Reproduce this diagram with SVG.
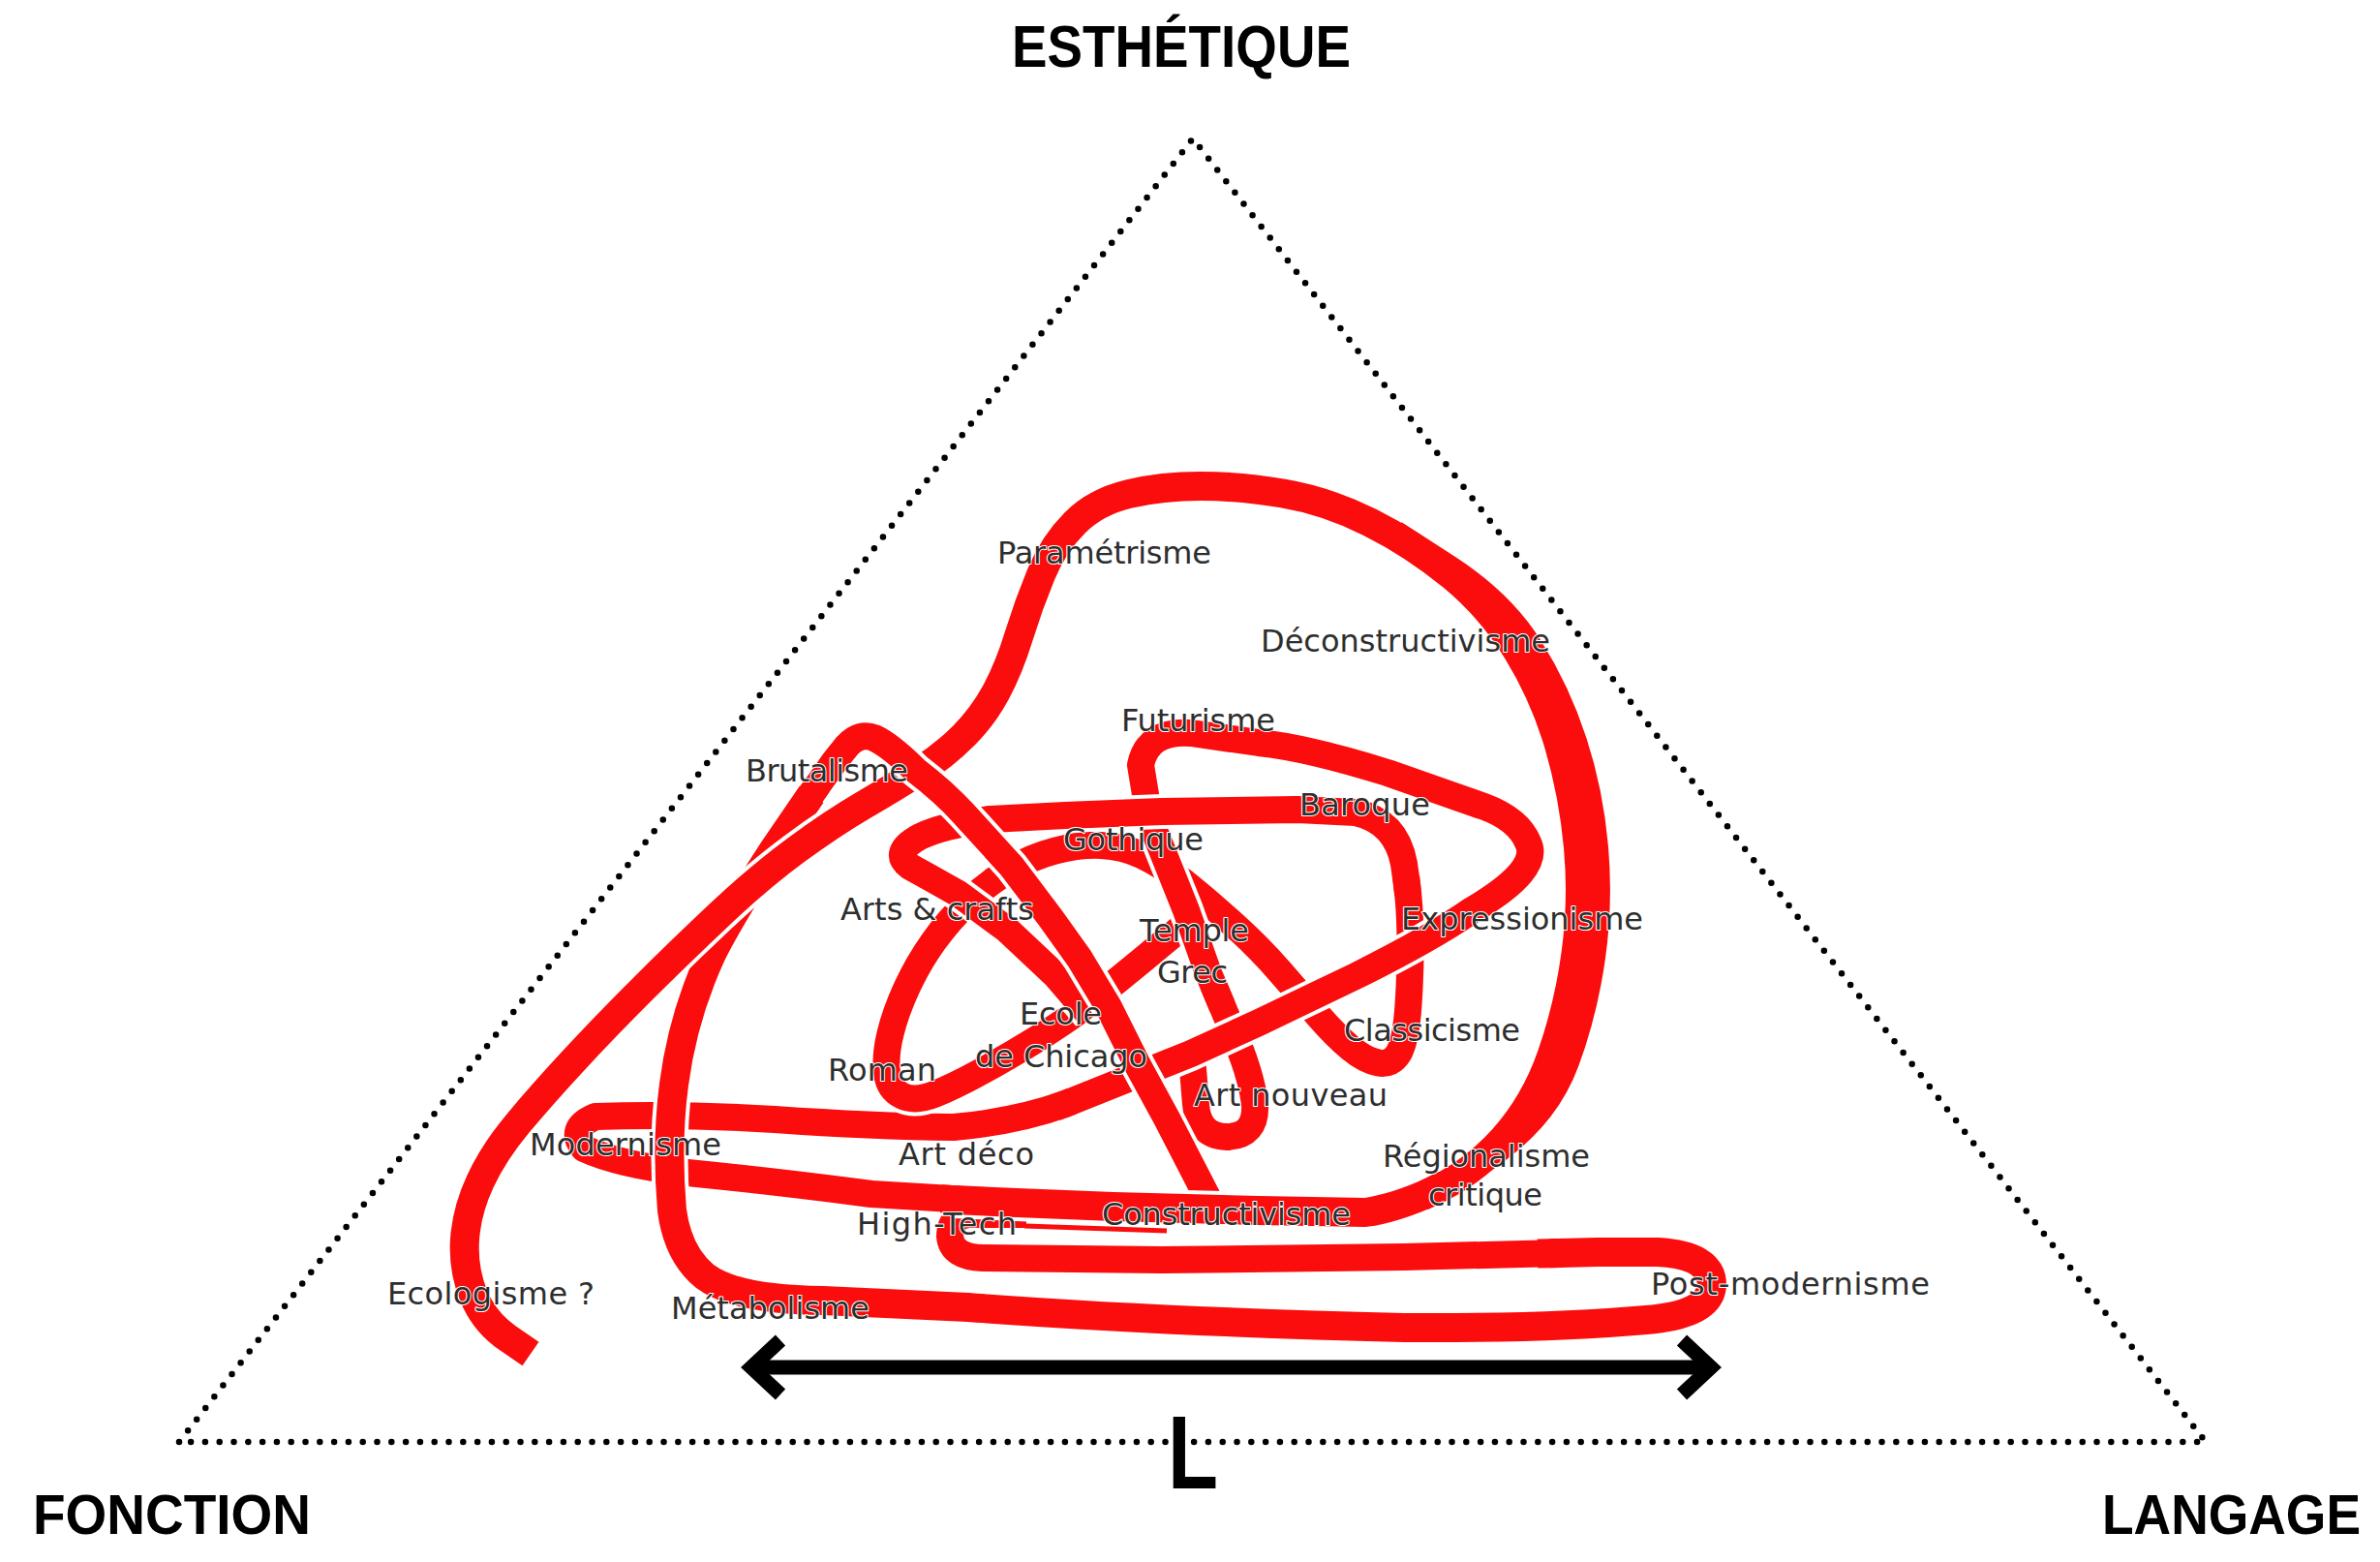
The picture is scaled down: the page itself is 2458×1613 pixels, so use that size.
<svg xmlns="http://www.w3.org/2000/svg" xmlns:xlink="http://www.w3.org/1999/xlink" width="2458" height="1613" viewBox="0 0 2458 1613">
<style>
.w{fill:none;stroke:#fff;stroke-width:36;stroke-linejoin:round;stroke-linecap:butt}
.r{fill:none;stroke:#fb0d0d;stroke-width:28;stroke-linejoin:round;stroke-linecap:butt}
.pt{fill:none;stroke:#fb0d0d;stroke-linecap:butt}
.lbl{font-family:"DejaVu Sans","Noto Sans",sans-serif;font-size:32px;fill:#2e2e2e;stroke:#fff;stroke-width:2;paint-order:stroke;stroke-linejoin:round}
.title{font-family:"Liberation Sans",Arial,sans-serif;font-weight:700;fill:#000}
.dot{fill:none;stroke:#000;stroke-width:6.5;stroke-linecap:round;stroke-dasharray:0 14.8}
.arr{fill:none;stroke:#000;stroke-width:15;stroke-linejoin:miter;stroke-miterlimit:10}
</style>
<defs>
<path id="s1" d="M1060,1254 L1000,1254 Q981,1256 981,1277 Q983,1298 1015,1299 L1200,1301 L1450,1298 L1650,1293"/>
<path id="m1" d="M1000,1239 L900,1233 Q800,1220 710,1211 Q640,1203 603,1186 Q586,1165 615,1153 Q700,1150 800,1156 Q900,1163 985,1164 Q1050,1158 1100,1140 L1140,1124"/>
<path id="l1" d="M1600,1294.25 L1650,1293 L1712,1293 Q1768,1296 1768,1327 Q1766,1358 1700,1363 Q1600,1372 1450,1371 Q1200,1365 1000,1350 L850,1343 Q760,1342 728,1318 Q700,1295 694,1250 Q688,1180 696,1120 Q705,1050 735,985 Q755,945 800,876 L850,803"/>
<path id="p1" d="M1232,948 L1179,992 Q1140,1024 1120,1039.5 Q1100,1055 1070,1073.5 Q1040,1092 1012.5,1107 Q985,1122 965,1130 Q945,1138 931.5,1131.5 Q918,1125 916,1107.5 Q914,1090 919.5,1067.5 Q925,1045 936.5,1020 Q948,995 964,972.5 Q980,950 1000,931 Q1020,912 1042.5,898.5 Q1065,885 1090,878.5 Q1115,872 1137.5,873 Q1160,874 1180,883.5 Q1200,893 1221.5,910 Q1243,927 1271.5,952.5 Q1300,978 1322.5,1004 Q1345,1030 1362.5,1050 Q1380,1070 1395,1082.5 Q1410,1095 1423.5,1097.5 Q1437,1100 1444.5,1087.5 Q1452,1075 1454.5,1037.5 Q1457,1000 1456.5,967.5 Q1456,935 1453,913.5 L1450,892"/>
<path id="v2" d="M1240,985 L1248,1005 L1272,1062 Q1292,1108 1296,1140 Q1298,1173 1267,1174 Q1237,1173 1235,1140 L1231,1092"/>
<path id="b1" d="M1100,1140 L1140,1124 L1230,1088 L1300,1056 L1400,1008 Q1480,968 1520,940 Q1592,898 1578,870 Q1568,846 1533,833 L1433,798 Q1350,772 1300,767 L1230,757 Q1185,754 1178,790 L1187,845 L1203,885 L1225,940 L1248,1005 L1257.7,1028"/>
<path id="p2" d="M1453,913.5 L1450,892 Q1442,848 1400,839 L1340,836 L1200,838 L1100,842 L1023,846 Q975,852 950,864 Q920,880 940,895 Q960,906 990,923 L1040,960 L1090,1007 L1125,1048"/>
<path id="e1" d="M548,1398 L524,1381.5 Q500,1365 489,1337.5 Q478,1310 480,1280 Q482,1250 496,1220 Q510,1190 535,1160 Q560,1130 592.5,1095 Q625,1060 662.5,1022.5 Q700,985 742.5,945 Q785,905 822.5,877.5 Q860,850 892.5,831 Q925,812 950,796 Q975,780 995,760 Q1015,740 1028.5,715 Q1042,690 1052,657.5 Q1062,625 1075,593.5 Q1088,562 1110,540 Q1132,518 1166,510 Q1200,502 1240,502 Q1280,502 1325,509.5 Q1370,517 1415,539.5 Q1460,562 1500,595 Q1540,628 1567.5,673 Q1595,718 1610,769 Q1625,820 1630,875 Q1635,930 1627.5,985 Q1620,1040 1602.5,1090 Q1585,1140 1552.5,1176 Q1520,1212 1480,1230 Q1440,1248 1410,1252"/>
<path id="e1b" d="M1440,551 L1495,586.5 Q1550,622 1579,668 Q1608,714 1625,766 Q1642,818 1647,875 Q1652,932 1644,988.5 Q1636,1045 1617,1096.5 Q1598,1148 1549,1185 L1500,1221"/>
<path id="l2" d="M838,820 L850,803 Q862,785 875,770 Q888,756 903,762 Q920,770 945,795 Q975,818 995,840 L1045,895 L1085,948 L1115,990 L1145,1040 L1175,1100 L1205,1155 L1253,1248"/>
<path id="e2" d="M1480,1230 Q1440,1248 1410,1252 L1300,1250 L1150,1246 L1050,1242 L985,1239"/>
</defs>

<g id="triangle">
<path class="dot" d="M185,1489 L1232,143 L2278,1489 Z"/>
</g>

<g id="connectors">
<use href="#s1" class="w"/><use href="#s1" class="r"/>
<use href="#m1" class="w"/><use href="#m1" class="r"/>
<use href="#l1" class="w" style="stroke-width:38"/><use href="#l1" class="r" style="stroke-width:30"/>
<path class="pt" stroke-width="30" d="M1588,1294.55 L1614,1293.9"/>
<use href="#p1" class="w"/><use href="#p1" class="r"/>
<use href="#v2" class="w"/><use href="#v2" class="r"/>
<use href="#b1" class="w"/><use href="#b1" class="r"/>
<path class="pt" stroke-width="28" d="M1252.8,1016.4 L1262.4,1039.2"/>
<path class="pt" stroke-width="28" d="M1107,1137.2 L1090,1143.6"/>
<use href="#p2" class="w"/><use href="#p2" class="r"/>
<path class="pt" stroke-width="28" d="M1454.2,924 L1452.2,906"/>
<use href="#e1" class="w" style="stroke-width:38"/><use href="#e1b" class="w"/><use href="#e1" class="r" style="stroke-width:30"/><use href="#e1b" class="r"/>
<use href="#l2" class="w"/><use href="#l2" class="r"/>
<path class="pt" stroke-width="28" d="M833,827 L845,810"/>
<use href="#e2" class="w" style="stroke-width:38"/><use href="#e2" class="r" style="stroke-width:30"/>
<path class="pt" stroke-width="30" d="M1492,1223.5 L1468,1235.6"/>
<path class="pt" stroke-width="29" d="M998,1239.6 L972,1237.8"/>
<path d="M1058,1266 L1205,1271" fill="none" stroke="#fb0d0d" stroke-width="5"/>
<g id="arrow-L">
<path class="arr" d="M776,1412 H1767"/>
<polyline class="arr" points="806,1384 776,1412 806,1440"/>
<polyline class="arr" points="1737,1384 1767,1412 1737,1440"/>
</g>
</g>

<g id="n-parametrisme"><text class="lbl" x="1030" y="582" textLength="221">Paramétrisme</text></g>
<g id="n-deconstructivisme"><text class="lbl" x="1302" y="673" textLength="299">Déconstructivisme</text></g>
<g id="n-futurisme"><text class="lbl" x="1158" y="755" textLength="159">Futurisme</text></g>
<g id="n-brutalisme"><text class="lbl" x="770" y="807" textLength="168">Brutalisme</text></g>
<g id="n-baroque"><text class="lbl" x="1342" y="842" textLength="135">Baroque</text></g>
<g id="n-gothique"><text class="lbl" x="1098" y="878" textLength="145">Gothique</text></g>
<g id="n-artscrafts"><text class="lbl" x="868" y="950" textLength="200">Arts &amp; crafts</text></g>
<g id="n-templegrec"><text class="lbl" x="1177" y="972" textLength="113">Temple</text><text class="lbl" x="1195" y="1015" textLength="73">Grec</text></g>
<g id="n-expressionisme"><text class="lbl" x="1447" y="960" textLength="250">Expressionisme</text></g>
<g id="n-ecolechicago"><text class="lbl" x="1053" y="1058" textLength="85">Ecole</text><text class="lbl" x="1007" y="1102" textLength="178">de Chicago</text></g>
<g id="n-classicisme"><text class="lbl" x="1388" y="1075" textLength="182">Classicisme</text></g>
<g id="n-roman"><text class="lbl" x="855" y="1116" textLength="112">Roman</text></g>
<g id="n-artnouveau"><text class="lbl" x="1233" y="1142" textLength="200">Art nouveau</text></g>
<g id="n-modernisme"><text class="lbl" x="547" y="1193" textLength="198">Modernisme</text></g>
<g id="n-artdeco"><text class="lbl" x="928" y="1203" textLength="140">Art déco</text></g>
<g id="n-regionalisme"><text class="lbl" x="1428" y="1205" textLength="214">Régionalisme</text><text class="lbl" x="1475" y="1245" textLength="118">critique</text></g>
<g id="n-constructivisme"><text class="lbl" x="1138" y="1265" textLength="257">Constructivisme</text></g>
<g id="n-hightech"><text class="lbl" x="885" y="1275" textLength="165">High-Tech</text></g>
<g id="n-postmodernisme"><text class="lbl" x="1705" y="1337" textLength="288">Post-modernisme</text></g>
<g id="n-ecologisme"><text class="lbl" x="400" y="1347" textLength="214">Ecologisme ?</text></g>
<g id="n-metabolisme"><text class="lbl" x="693" y="1362" textLength="205">Métabolisme</text></g>

<g id="n-esthetique"><text class="title" x="1045" y="69" font-size="61" textLength="350" lengthAdjust="spacingAndGlyphs">ESTHÉTIQUE</text></g>
<g id="n-fonction"><text class="title" x="34" y="1584" font-size="58" textLength="287" lengthAdjust="spacingAndGlyphs">FONCTION</text></g>
<g id="n-langage"><text class="title" x="2171" y="1584" font-size="58" textLength="267" lengthAdjust="spacingAndGlyphs">LANGAGE</text></g>
<g id="n-L"><text class="title" x="1206" y="1537" font-size="107" textLength="52" lengthAdjust="spacingAndGlyphs">L</text></g>
</svg>
